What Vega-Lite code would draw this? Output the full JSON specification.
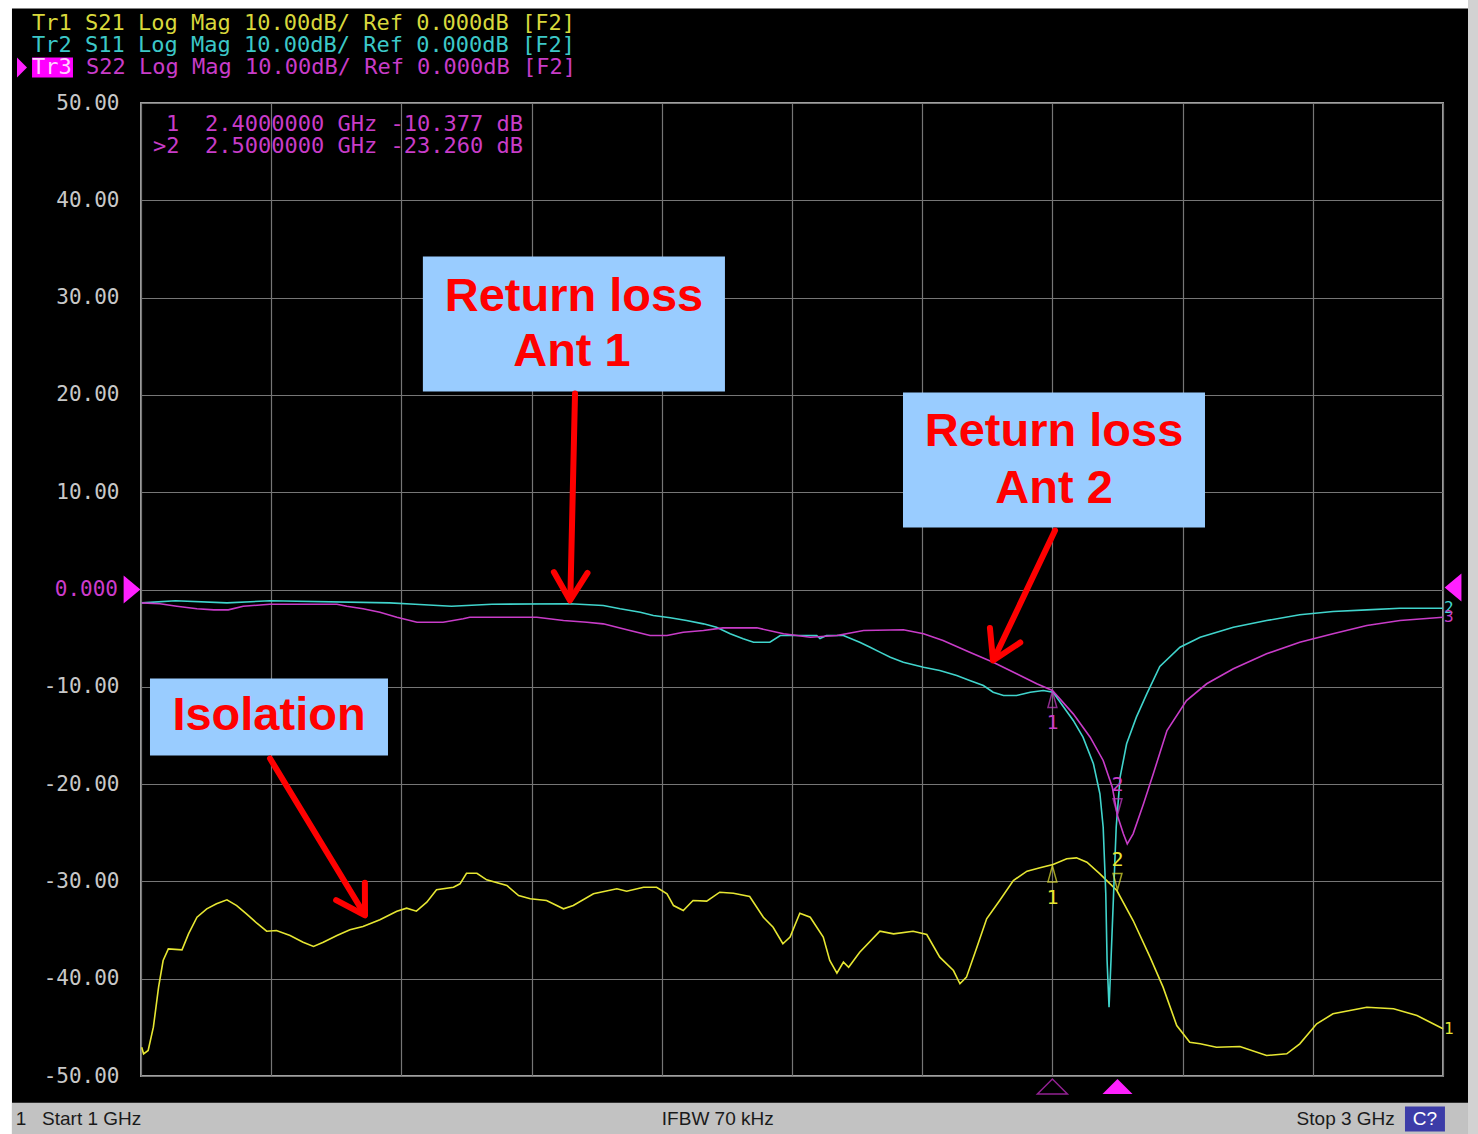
{
  "$schema": "https://vega.github.io/schema/vega-lite/v6.json",
  "width": 1302,
  "height": 973,
  "autosize": {"type": "none"},
  "padding": {"left": 141, "top": 103, "right": 35, "bottom": 58},
  "background": "#000000",
  "config": {
    "view": {"stroke": "#a0a0a0", "strokeWidth": 2},
    "axisX": {"grid": true, "gridColor": "#767676", "gridWidth": 1.2, "labels": false, "ticks": false, "domain": false, "title": null},
    "axisY": {"grid": true, "gridColor": "#767676", "gridWidth": 1.2, "ticks": false, "domain": false, "title": null, "labelPadding": 22,
              "labelFont": "DejaVu Sans Mono", "labelFontSize": 21, "labelColor": "#c8c8c8"}
  },
  "datasets": {
    "one": [{}],
    "traces": [
      {"trace": "S21", "f": 1.001, "db": -47.04}, {"trace": "S21", "f": 1.004, "db": -47.72}, {"trace": "S21", "f": 1.011, "db": -47.38},
      {"trace": "S21", "f": 1.019, "db": -44.98}, {"trace": "S21", "f": 1.027, "db": -40.87}, {"trace": "S21", "f": 1.034, "db": -38.13},
      {"trace": "S21", "f": 1.042, "db": -36.93}, {"trace": "S21", "f": 1.063, "db": -37.03}, {"trace": "S21", "f": 1.073, "db": -35.39},
      {"trace": "S21", "f": 1.086, "db": -33.68}, {"trace": "S21", "f": 1.101, "db": -32.82}, {"trace": "S21", "f": 1.116, "db": -32.30},
      {"trace": "S21", "f": 1.132, "db": -31.89}, {"trace": "S21", "f": 1.147, "db": -32.48}, {"trace": "S21", "f": 1.162, "db": -33.33},
      {"trace": "S21", "f": 1.178, "db": -34.30}, {"trace": "S21", "f": 1.193, "db": -35.12}, {"trace": "S21", "f": 1.208, "db": -35.05},
      {"trace": "S21", "f": 1.229, "db": -35.56}, {"trace": "S21", "f": 1.249, "db": -36.25}, {"trace": "S21", "f": 1.265, "db": -36.69},
      {"trace": "S21", "f": 1.280, "db": -36.25}, {"trace": "S21", "f": 1.301, "db": -35.56}, {"trace": "S21", "f": 1.321, "db": -34.97},
      {"trace": "S21", "f": 1.341, "db": -34.63}, {"trace": "S21", "f": 1.367, "db": -33.95}, {"trace": "S21", "f": 1.393, "db": -33.06},
      {"trace": "S21", "f": 1.408, "db": -32.75}, {"trace": "S21", "f": 1.423, "db": -33.06}, {"trace": "S21", "f": 1.439, "db": -32.14},
      {"trace": "S21", "f": 1.454, "db": -30.86}, {"trace": "S21", "f": 1.480, "db": -30.60}, {"trace": "S21", "f": 1.490, "db": -30.25},
      {"trace": "S21", "f": 1.500, "db": -29.16}, {"trace": "S21", "f": 1.516, "db": -29.16}, {"trace": "S21", "f": 1.531, "db": -29.84},
      {"trace": "S21", "f": 1.562, "db": -30.42}, {"trace": "S21", "f": 1.580, "db": -31.45}, {"trace": "S21", "f": 1.598, "db": -31.79},
      {"trace": "S21", "f": 1.623, "db": -31.96}, {"trace": "S21", "f": 1.649, "db": -32.82}, {"trace": "S21", "f": 1.664, "db": -32.48},
      {"trace": "S21", "f": 1.695, "db": -31.27}, {"trace": "S21", "f": 1.731, "db": -30.76}, {"trace": "S21", "f": 1.746, "db": -31.01},
      {"trace": "S21", "f": 1.772, "db": -30.60}, {"trace": "S21", "f": 1.792, "db": -30.60}, {"trace": "S21", "f": 1.808, "db": -31.27},
      {"trace": "S21", "f": 1.818, "db": -32.48}, {"trace": "S21", "f": 1.833, "db": -32.99}, {"trace": "S21", "f": 1.848, "db": -31.96},
      {"trace": "S21", "f": 1.869, "db": -32.03}, {"trace": "S21", "f": 1.889, "db": -31.11}, {"trace": "S21", "f": 1.910, "db": -31.21},
      {"trace": "S21", "f": 1.935, "db": -31.55}, {"trace": "S21", "f": 1.956, "db": -33.68}, {"trace": "S21", "f": 1.971, "db": -34.71},
      {"trace": "S21", "f": 1.986, "db": -36.41}, {"trace": "S21", "f": 1.997, "db": -35.73}, {"trace": "S21", "f": 2.012, "db": -33.27},
      {"trace": "S21", "f": 2.028, "db": -33.68}, {"trace": "S21", "f": 2.048, "db": -35.73}, {"trace": "S21", "f": 2.058, "db": -38.13},
      {"trace": "S21", "f": 2.069, "db": -39.44}, {"trace": "S21", "f": 2.079, "db": -38.30}, {"trace": "S21", "f": 2.087, "db": -38.82},
      {"trace": "S21", "f": 2.104, "db": -37.28}, {"trace": "S21", "f": 2.135, "db": -35.12}, {"trace": "S21", "f": 2.156, "db": -35.39},
      {"trace": "S21", "f": 2.186, "db": -35.12}, {"trace": "S21", "f": 2.207, "db": -35.46}, {"trace": "S21", "f": 2.227, "db": -37.79},
      {"trace": "S21", "f": 2.248, "db": -39.16}, {"trace": "S21", "f": 2.258, "db": -40.52}, {"trace": "S21", "f": 2.268, "db": -39.84},
      {"trace": "S21", "f": 2.284, "db": -36.76}, {"trace": "S21", "f": 2.299, "db": -33.84}, {"trace": "S21", "f": 2.319, "db": -31.96},
      {"trace": "S21", "f": 2.340, "db": -29.91}, {"trace": "S21", "f": 2.361, "db": -28.95}, {"trace": "S21", "f": 2.381, "db": -28.60},
      {"trace": "S21", "f": 2.401, "db": -28.26}, {"trace": "S21", "f": 2.422, "db": -27.68}, {"trace": "S21", "f": 2.437, "db": -27.58},
      {"trace": "S21", "f": 2.453, "db": -28.03}, {"trace": "S21", "f": 2.473, "db": -29.22}, {"trace": "S21", "f": 2.499, "db": -30.94},
      {"trace": "S21", "f": 2.524, "db": -34.02}, {"trace": "S21", "f": 2.550, "db": -37.79}, {"trace": "S21", "f": 2.570, "db": -40.87},
      {"trace": "S21", "f": 2.591, "db": -44.81}, {"trace": "S21", "f": 2.611, "db": -46.53}, {"trace": "S21", "f": 2.627, "db": -46.69},
      {"trace": "S21", "f": 2.652, "db": -47.04}, {"trace": "S21", "f": 2.688, "db": -46.97}, {"trace": "S21", "f": 2.729, "db": -47.89},
      {"trace": "S21", "f": 2.760, "db": -47.72}, {"trace": "S21", "f": 2.780, "db": -46.69}, {"trace": "S21", "f": 2.806, "db": -44.64},
      {"trace": "S21", "f": 2.831, "db": -43.61}, {"trace": "S21", "f": 2.883, "db": -42.93}, {"trace": "S21", "f": 2.924, "db": -43.09},
      {"trace": "S21", "f": 2.960, "db": -43.78}, {"trace": "S21", "f": 3.000, "db": -45.15},

      {"trace": "S11", "f": 1.001, "db": -1.37}, {"trace": "S11", "f": 1.053, "db": -1.16}, {"trace": "S11", "f": 1.132, "db": -1.37},
      {"trace": "S11", "f": 1.198, "db": -1.16}, {"trace": "S11", "f": 1.382, "db": -1.37}, {"trace": "S11", "f": 1.421, "db": -1.51},
      {"trace": "S11", "f": 1.477, "db": -1.72}, {"trace": "S11", "f": 1.539, "db": -1.51}, {"trace": "S11", "f": 1.659, "db": -1.47},
      {"trace": "S11", "f": 1.710, "db": -1.64}, {"trace": "S11", "f": 1.736, "db": -1.98}, {"trace": "S11", "f": 1.767, "db": -2.33},
      {"trace": "S11", "f": 1.787, "db": -2.67}, {"trace": "S11", "f": 1.813, "db": -2.91}, {"trace": "S11", "f": 1.838, "db": -3.19},
      {"trace": "S11", "f": 1.864, "db": -3.53}, {"trace": "S11", "f": 1.884, "db": -3.87}, {"trace": "S11", "f": 1.905, "db": -4.55},
      {"trace": "S11", "f": 1.925, "db": -5.07}, {"trace": "S11", "f": 1.941, "db": -5.42}, {"trace": "S11", "f": 1.966, "db": -5.42},
      {"trace": "S11", "f": 1.982, "db": -4.73}, {"trace": "S11", "f": 2.038, "db": -4.73}, {"trace": "S11", "f": 2.043, "db": -5.04},
      {"trace": "S11", "f": 2.053, "db": -4.73}, {"trace": "S11", "f": 2.079, "db": -4.73}, {"trace": "S11", "f": 2.104, "db": -5.42},
      {"trace": "S11", "f": 2.120, "db": -5.93}, {"trace": "S11", "f": 2.135, "db": -6.44}, {"trace": "S11", "f": 2.151, "db": -6.96},
      {"trace": "S11", "f": 2.171, "db": -7.47}, {"trace": "S11", "f": 2.202, "db": -7.99}, {"trace": "S11", "f": 2.227, "db": -8.32},
      {"trace": "S11", "f": 2.253, "db": -8.84}, {"trace": "S11", "f": 2.273, "db": -9.35}, {"trace": "S11", "f": 2.294, "db": -9.87},
      {"trace": "S11", "f": 2.309, "db": -10.56}, {"trace": "S11", "f": 2.325, "db": -10.89}, {"trace": "S11", "f": 2.345, "db": -10.89},
      {"trace": "S11", "f": 2.366, "db": -10.56}, {"trace": "S11", "f": 2.386, "db": -10.38}, {"trace": "S11", "f": 2.401, "db": -10.56},
      {"trace": "S11", "f": 2.432, "db": -13.46}, {"trace": "S11", "f": 2.447, "db": -15.18}, {"trace": "S11", "f": 2.463, "db": -17.91},
      {"trace": "S11", "f": 2.473, "db": -21.0}, {"trace": "S11", "f": 2.478, "db": -24.43}, {"trace": "S11", "f": 2.482, "db": -31.24},
      {"trace": "S11", "f": 2.484, "db": -38.13}, {"trace": "S11", "f": 2.487, "db": -42.93}, {"trace": "S11", "f": 2.490, "db": -38.13},
      {"trace": "S11", "f": 2.494, "db": -31.24}, {"trace": "S11", "f": 2.498, "db": -24.43}, {"trace": "S11", "f": 2.504, "db": -19.29},
      {"trace": "S11", "f": 2.514, "db": -15.86}, {"trace": "S11", "f": 2.529, "db": -13.12}, {"trace": "S11", "f": 2.545, "db": -10.72},
      {"trace": "S11", "f": 2.565, "db": -7.90}, {"trace": "S11", "f": 2.596, "db": -5.93}, {"trace": "S11", "f": 2.627, "db": -4.90},
      {"trace": "S11", "f": 2.678, "db": -3.87}, {"trace": "S11", "f": 2.729, "db": -3.19}, {"trace": "S11", "f": 2.780, "db": -2.60},
      {"trace": "S11", "f": 2.831, "db": -2.26}, {"trace": "S11", "f": 2.883, "db": -2.09}, {"trace": "S11", "f": 2.934, "db": -1.92},
      {"trace": "S11", "f": 3.000, "db": -1.92},

      {"trace": "S22", "f": 1.001, "db": -1.37}, {"trace": "S22", "f": 1.029, "db": -1.47}, {"trace": "S22", "f": 1.055, "db": -1.72},
      {"trace": "S22", "f": 1.086, "db": -1.98}, {"trace": "S22", "f": 1.112, "db": -2.09}, {"trace": "S22", "f": 1.134, "db": -2.09},
      {"trace": "S22", "f": 1.157, "db": -1.72}, {"trace": "S22", "f": 1.188, "db": -1.57}, {"trace": "S22", "f": 1.198, "db": -1.51},
      {"trace": "S22", "f": 1.301, "db": -1.51}, {"trace": "S22", "f": 1.316, "db": -1.72}, {"trace": "S22", "f": 1.341, "db": -1.98},
      {"trace": "S22", "f": 1.367, "db": -2.33}, {"trace": "S22", "f": 1.393, "db": -2.85}, {"trace": "S22", "f": 1.424, "db": -3.36},
      {"trace": "S22", "f": 1.464, "db": -3.36}, {"trace": "S22", "f": 1.495, "db": -3.01}, {"trace": "S22", "f": 1.505, "db": -2.85},
      {"trace": "S22", "f": 1.608, "db": -2.85}, {"trace": "S22", "f": 1.649, "db": -3.19}, {"trace": "S22", "f": 1.685, "db": -3.36},
      {"trace": "S22", "f": 1.710, "db": -3.53}, {"trace": "S22", "f": 1.751, "db": -4.21}, {"trace": "S22", "f": 1.782, "db": -4.73},
      {"trace": "S22", "f": 1.808, "db": -4.73}, {"trace": "S22", "f": 1.833, "db": -4.39}, {"trace": "S22", "f": 1.864, "db": -4.21},
      {"trace": "S22", "f": 1.894, "db": -3.94}, {"trace": "S22", "f": 1.946, "db": -3.94}, {"trace": "S22", "f": 1.987, "db": -4.55},
      {"trace": "S22", "f": 2.028, "db": -4.90}, {"trace": "S22", "f": 2.069, "db": -4.73}, {"trace": "S22", "f": 2.110, "db": -4.21},
      {"trace": "S22", "f": 2.171, "db": -4.14}, {"trace": "S22", "f": 2.202, "db": -4.55}, {"trace": "S22", "f": 2.232, "db": -5.24},
      {"trace": "S22", "f": 2.273, "db": -6.44}, {"trace": "S22", "f": 2.309, "db": -7.47}, {"trace": "S22", "f": 2.345, "db": -8.66},
      {"trace": "S22", "f": 2.376, "db": -9.69}, {"trace": "S22", "f": 2.400, "db": -10.38}, {"trace": "S22", "f": 2.432, "db": -12.78},
      {"trace": "S22", "f": 2.458, "db": -15.18}, {"trace": "S22", "f": 2.478, "db": -17.57}, {"trace": "S22", "f": 2.492, "db": -20.32},
      {"trace": "S22", "f": 2.500, "db": -23.26}, {"trace": "S22", "f": 2.509, "db": -25.11}, {"trace": "S22", "f": 2.515, "db": -26.14},
      {"trace": "S22", "f": 2.524, "db": -25.11}, {"trace": "S22", "f": 2.540, "db": -22.02}, {"trace": "S22", "f": 2.555, "db": -18.94},
      {"trace": "S22", "f": 2.576, "db": -14.49}, {"trace": "S22", "f": 2.606, "db": -11.41}, {"trace": "S22", "f": 2.637, "db": -9.69},
      {"trace": "S22", "f": 2.678, "db": -8.15}, {"trace": "S22", "f": 2.729, "db": -6.61}, {"trace": "S22", "f": 2.780, "db": -5.42},
      {"trace": "S22", "f": 2.831, "db": -4.55}, {"trace": "S22", "f": 2.883, "db": -3.70}, {"trace": "S22", "f": 2.934, "db": -3.19},
      {"trace": "S22", "f": 3.000, "db": -2.85}
    ],
    "markers": [
      {"trace": "S21", "num": "1", "f": 2.4, "db": -28.3},
      {"trace": "S21", "num": "2", "f": 2.5, "db": -30.94},
      {"trace": "S22", "num": "1", "f": 2.4, "db": -10.377},
      {"trace": "S22", "num": "2", "f": 2.5, "db": -23.26}
    ],
    "callouts": [
      {"id": "ant1", "f0": 1.433, "f1": 1.897, "db0": 34.22, "db1": 20.35},
      {"id": "ant2", "f0": 2.1705, "f1": 2.6344, "db0": 20.25, "db1": 6.37},
      {"id": "iso", "f0": 1.0138, "f1": 1.3794, "db0": -9.15, "db1": -17.06}
    ],
    "callout_text": [
      {"label": "Return loss", "f": 1.6651, "db": 30.11},
      {"label": "Ant 1", "f": 1.662, "db": 24.36},
      {"label": "Return loss", "f": 2.4025, "db": 16.14},
      {"label": "Ant 2", "f": 2.4025, "db": 10.38},
      {"label": "Isolation", "f": 1.1966, "db": -13.05}
    ],
    "arrows": [
      {"id": "a1", "f0": 1.6667, "db0": 20.14, "f1": 1.6595, "db1": -0.9},
      {"id": "a2", "f0": 2.404, "db0": 6.06, "f1": 2.3105, "db1": -7.1},
      {"id": "a3", "f0": 1.1982, "db0": -17.37, "f1": 1.3425, "db1": -33.3}
    ],
    "arrow_tips": [
      {"id": "a1", "f": 1.659, "db": -1.13},
      {"id": "a2", "f": 2.3088, "db": -7.30},
      {"id": "a3", "f": 1.3441, "db": -33.50}
    ]
  },
  "layer": [
    {
      "data": {"name": "traces"},
      "mark": {"type": "line", "strokeWidth": 1.6},
      "encoding": {
        "x": {"field": "f", "type": "quantitative",
              "scale": {"domain": [1, 3], "nice": false, "zero": false},
              "axis": {"values": [1, 1.2, 1.4, 1.6, 1.8, 2, 2.2, 2.4, 2.6, 2.8, 3]}},
        "y": {"field": "db", "type": "quantitative",
              "scale": {"domain": [-50, 50], "nice": false, "zero": false},
              "axis": {"values": [-50, -40, -30, -20, -10, 0, 10, 20, 30, 40, 50],
                       "labelExpr": "datum.value == 0 ? '' : (datum.value < 0 ? '-' : '') + format(abs(datum.value), '.2f')"}},
        "color": {"field": "trace", "type": "nominal",
                  "scale": {"domain": ["S21", "S11", "S22"], "range": ["#e6e632", "#40d4cc", "#c83cc8"]},
                  "legend": null}
      }
    },
    {
      "data": {"name": "markers"},
      "transform": [{"filter": "datum.num == '1'"}],
      "mark": {"type": "point", "shape": "M-0.55,1 L0,-1 L0.55,1 Z", "filled": false, "size": 260, "strokeWidth": 1.5, "yOffset": 9},
      "encoding": {"x": {"field": "f", "type": "quantitative"}, "y": {"field": "db", "type": "quantitative"},
                   "color": {"field": "trace", "type": "nominal", "legend": null}}
    },
    {
      "data": {"name": "markers"},
      "transform": [{"filter": "datum.num == '2'"}],
      "mark": {"type": "point", "shape": "M-0.55,-1 L0,1 L0.55,-1 Z", "filled": false, "size": 260, "strokeWidth": 1.5, "yOffset": -9},
      "encoding": {"x": {"field": "f", "type": "quantitative"}, "y": {"field": "db", "type": "quantitative"},
                   "color": {"field": "trace", "type": "nominal", "legend": null}}
    },
    {
      "data": {"name": "markers"},
      "transform": [{"filter": "datum.num == '1'"}],
      "mark": {"type": "text", "font": "DejaVu Sans Mono", "fontSize": 20, "baseline": "middle", "align": "center", "dy": 33},
      "encoding": {"x": {"field": "f", "type": "quantitative"}, "y": {"field": "db", "type": "quantitative"},
                   "text": {"field": "num"}, "color": {"field": "trace", "type": "nominal", "legend": null}}
    },
    {
      "data": {"name": "markers"},
      "transform": [{"filter": "datum.num == '2'"}],
      "mark": {"type": "text", "font": "DejaVu Sans Mono", "fontSize": 20, "baseline": "middle", "align": "center", "dy": -31},
      "encoding": {"x": {"field": "f", "type": "quantitative"}, "y": {"field": "db", "type": "quantitative"},
                   "text": {"field": "num"}, "color": {"field": "trace", "type": "nominal", "legend": null}}
    },
    {
      "data": {"name": "traces"},
      "transform": [{"filter": "datum.f == 3"}, {"calculate": "datum.trace == 'S21' ? '1' : datum.trace == 'S11' ? '2' : '3'", "as": "num"}],
      "mark": {"type": "text", "font": "DejaVu Sans Mono", "fontSize": 16, "baseline": "middle", "align": "left", "dx": 1},
      "encoding": {"x": {"field": "f", "type": "quantitative"}, "y": {"field": "db", "type": "quantitative"},
                   "text": {"field": "num"}, "color": {"field": "trace", "type": "nominal", "legend": null}}
    },
    {
      "data": {"name": "markers"},
      "transform": [{"filter": "datum.trace == 'S22' && datum.num == '1'"}],
      "mark": {"type": "point", "shape": "M-1,0.5 L0,-0.5 L1,0.5 Z", "filled": false, "size": 900, "strokeWidth": 1.5, "color": "#d030d0"},
      "encoding": {"x": {"field": "f", "type": "quantitative"}, "y": {"datum": -51.08}}
    },
    {
      "data": {"name": "markers"},
      "transform": [{"filter": "datum.trace == 'S22' && datum.num == '2'"}],
      "mark": {"type": "point", "shape": "M-1,0.5 L0,-0.5 L1,0.5 Z", "filled": true, "opacity": 1, "size": 900, "color": "#ff20ff"},
      "encoding": {"x": {"field": "f", "type": "quantitative"}, "y": {"datum": -51.08}}
    },
    {
      "data": {"name": "one"},
      "mark": {"type": "point", "shape": "M-0.6,-1 L0.6,0 L-0.6,1 Z", "filled": true, "opacity": 1, "size": 784, "color": "#ff20ff"},
      "encoding": {"x": {"datum": 0.9862}, "y": {"datum": 0}}
    },
    {
      "data": {"name": "one"},
      "mark": {"type": "point", "shape": "M0.6,-1 L-0.6,0 L0.6,1 Z", "filled": true, "opacity": 1, "size": 784, "color": "#ff20ff"},
      "encoding": {"x": {"datum": 3.0154}, "y": {"datum": 0.2}}
    },
    {
      "data": {"name": "one"},
      "mark": {"type": "rect", "color": "#ffffff"},
      "encoding": {"x": {"datum": 0.7}, "x2": {"datum": 0.8018}, "y": {"datum": 62}, "y2": {"datum": -58}}
    },
    {
      "data": {"name": "one"},
      "mark": {"type": "rect", "color": "#ffffff"},
      "encoding": {"x": {"datum": 0.7}, "x2": {"datum": 3.1}, "y": {"datum": 62}, "y2": {"datum": 59.71}}
    },
    {
      "data": {"name": "one"},
      "mark": {"type": "rect", "color": "#d2d2d2"},
      "encoding": {"x": {"datum": 3.0384}, "x2": {"datum": 3.1}, "y": {"datum": 62}, "y2": {"datum": -58}}
    },
    {
      "data": {"name": "one"},
      "mark": {"type": "rect", "color": "#c2c2c2"},
      "encoding": {"x": {"datum": 0.8018}, "x2": {"datum": 3.0384}, "y": {"datum": -52.75}, "y2": {"datum": -58}}
    },
    {
      "data": {"name": "one"},
      "mark": {"type": "rect", "color": "#3c3ca8"},
      "encoding": {"x": {"datum": 2.9416}, "x2": {"datum": 3.003}, "y": {"datum": -53.13}, "y2": {"datum": -55.7}}
    },
    {
      "data": {"name": "one"},
      "mark": {"type": "text", "font": "Liberation Sans", "fontSize": 19, "color": "#1a1a1a", "align": "center", "baseline": "middle"},
      "encoding": {"x": {"datum": 0.8157}, "y": {"datum": -54.47}, "text": {"value": "1"}}
    },
    {
      "data": {"name": "one"},
      "mark": {"type": "text", "font": "Liberation Sans", "fontSize": 19, "color": "#1a1a1a", "align": "left", "baseline": "middle"},
      "encoding": {"x": {"datum": 0.848}, "y": {"datum": -54.47}, "text": {"value": "Start 1 GHz"}}
    },
    {
      "data": {"name": "one"},
      "mark": {"type": "text", "font": "Liberation Sans", "fontSize": 19, "color": "#1a1a1a", "align": "center", "baseline": "middle"},
      "encoding": {"x": {"datum": 1.886}, "y": {"datum": -54.47}, "text": {"value": "IFBW 70 kHz"}}
    },
    {
      "data": {"name": "one"},
      "mark": {"type": "text", "font": "Liberation Sans", "fontSize": 19, "color": "#1a1a1a", "align": "right", "baseline": "middle"},
      "encoding": {"x": {"datum": 2.926}, "y": {"datum": -54.47}, "text": {"value": "Stop 3 GHz"}}
    },
    {
      "data": {"name": "one"},
      "mark": {"type": "text", "font": "Liberation Sans", "fontSize": 19, "color": "#ffffff", "align": "center", "baseline": "middle"},
      "encoding": {"x": {"datum": 2.9723}, "y": {"datum": -54.47}, "text": {"value": "C?"}}
    },
    {
      "data": {"name": "one"},
      "mark": {"type": "text", "font": "DejaVu Sans Mono", "fontSize": 22, "color": "#d8d83c", "align": "left", "baseline": "middle"},
      "encoding": {"x": {"datum": 0.8326}, "y": {"datum": 58.27}, "text": {"value": "Tr1 S21 Log Mag 10.00dB/ Ref 0.000dB [F2]"}}
    },
    {
      "data": {"name": "one"},
      "mark": {"type": "text", "font": "DejaVu Sans Mono", "fontSize": 22, "color": "#3cc8c8", "align": "left", "baseline": "middle"},
      "encoding": {"x": {"datum": 0.8326}, "y": {"datum": 56.01}, "text": {"value": "Tr2 S11 Log Mag 10.00dB/ Ref 0.000dB [F2]"}}
    },
    {
      "data": {"name": "one"},
      "mark": {"type": "rect", "color": "#ff00ff"},
      "encoding": {"x": {"datum": 0.8326}, "x2": {"datum": 0.8955}, "y": {"datum": 54.68}, "y2": {"datum": 52.62}}
    },
    {
      "data": {"name": "one"},
      "mark": {"type": "point", "shape": "M-0.5,-1 L0.5,0 L-0.5,1 Z", "filled": true, "opacity": 1, "size": 400, "color": "#ff20ff"},
      "encoding": {"x": {"datum": 0.8172}, "y": {"datum": 53.65}}
    },
    {
      "data": {"name": "one"},
      "mark": {"type": "text", "font": "DejaVu Sans Mono", "fontSize": 22, "color": "#ffd0ff", "align": "left", "baseline": "middle"},
      "encoding": {"x": {"datum": 0.8326}, "y": {"datum": 53.75}, "text": {"value": "Tr3"}}
    },
    {
      "data": {"name": "one"},
      "mark": {"type": "text", "font": "DejaVu Sans Mono", "fontSize": 22, "color": "#c83cc8", "align": "left", "baseline": "middle"},
      "encoding": {"x": {"datum": 0.9155}, "y": {"datum": 53.75}, "text": {"value": "S22 Log Mag 10.00dB/ Ref 0.000dB [F2]"}}
    },
    {
      "data": {"name": "one"},
      "mark": {"type": "text", "font": "DejaVu Sans Mono", "fontSize": 22, "color": "#c83cc8", "align": "left", "baseline": "middle"},
      "encoding": {"x": {"datum": 1.0384}, "y": {"datum": 47.89}, "text": {"value": "1"}}
    },
    {
      "data": {"name": "one"},
      "mark": {"type": "text", "font": "DejaVu Sans Mono", "fontSize": 22, "color": "#c83cc8", "align": "left", "baseline": "middle"},
      "encoding": {"x": {"datum": 1.0983}, "y": {"datum": 47.89}, "text": {"value": "2.4000000 GHz -10.377 dB"}}
    },
    {
      "data": {"name": "one"},
      "mark": {"type": "text", "font": "DejaVu Sans Mono", "fontSize": 22, "color": "#c83cc8", "align": "left", "baseline": "middle"},
      "encoding": {"x": {"datum": 1.0184}, "y": {"datum": 45.53}, "text": {"value": ">2"}}
    },
    {
      "data": {"name": "one"},
      "mark": {"type": "text", "font": "DejaVu Sans Mono", "fontSize": 22, "color": "#c83cc8", "align": "left", "baseline": "middle"},
      "encoding": {"x": {"datum": 1.0983}, "y": {"datum": 45.53}, "text": {"value": "2.5000000 GHz -23.260 dB"}}
    },
    {
      "data": {"name": "one"},
      "mark": {"type": "text", "font": "DejaVu Sans Mono", "fontSize": 21, "color": "#cc3ccc", "align": "right", "baseline": "middle"},
      "encoding": {"x": {"datum": 0.9647}, "y": {"datum": 0}, "text": {"value": "0.000"}}
    },
    {
      "data": {"name": "callouts"},
      "mark": {"type": "rect", "color": "#99ccff"},
      "encoding": {"x": {"field": "f0", "type": "quantitative"}, "x2": {"field": "f1"},
                   "y": {"field": "db0", "type": "quantitative"}, "y2": {"field": "db1"}}
    },
    {
      "data": {"name": "callout_text"},
      "mark": {"type": "text", "font": "Liberation Sans", "fontWeight": "bold", "fontSize": 47, "color": "#ff0000", "align": "center", "baseline": "middle"},
      "encoding": {"x": {"field": "f", "type": "quantitative"}, "y": {"field": "db", "type": "quantitative"}, "text": {"field": "label"}}
    },
    {
      "data": {"name": "arrows"},
      "mark": {"type": "rule", "color": "#ff0000", "strokeWidth": 6, "strokeCap": "round"},
      "encoding": {"x": {"field": "f0", "type": "quantitative"}, "x2": {"field": "f1"},
                   "y": {"field": "db0", "type": "quantitative"}, "y2": {"field": "db1"}}
    },
    {
      "data": {"name": "arrow_tips"},
      "transform": [{"filter": "datum.id == 'a1'"}],
      "mark": {"type": "point", "shape": "M-0.6,-1 L0,0 L0.6,-1", "filled": false, "size": 3136, "strokeWidth": 6, "strokeCap": "round", "strokeJoin": "round", "color": "#ff0000", "opacity": 1, "angle": 1.4},
      "encoding": {"x": {"field": "f", "type": "quantitative"}, "y": {"field": "db", "type": "quantitative"}}
    },
    {
      "data": {"name": "arrow_tips"},
      "transform": [{"filter": "datum.id == 'a2'"}],
      "mark": {"type": "point", "shape": "M-0.6,-1 L0,0 L0.6,-1", "filled": false, "size": 3136, "strokeWidth": 6, "strokeCap": "round", "strokeJoin": "round", "color": "#ff0000", "opacity": 1, "angle": 25.5},
      "encoding": {"x": {"field": "f", "type": "quantitative"}, "y": {"field": "db", "type": "quantitative"}}
    },
    {
      "data": {"name": "arrow_tips"},
      "transform": [{"filter": "datum.id == 'a3'"}],
      "mark": {"type": "point", "shape": "M-0.6,-1 L0,0 L0.6,-1", "filled": false, "size": 3136, "strokeWidth": 6, "strokeCap": "round", "strokeJoin": "round", "color": "#ff0000", "opacity": 1, "angle": 328.8},
      "encoding": {"x": {"field": "f", "type": "quantitative"}, "y": {"field": "db", "type": "quantitative"}}
    }
  ]
}
